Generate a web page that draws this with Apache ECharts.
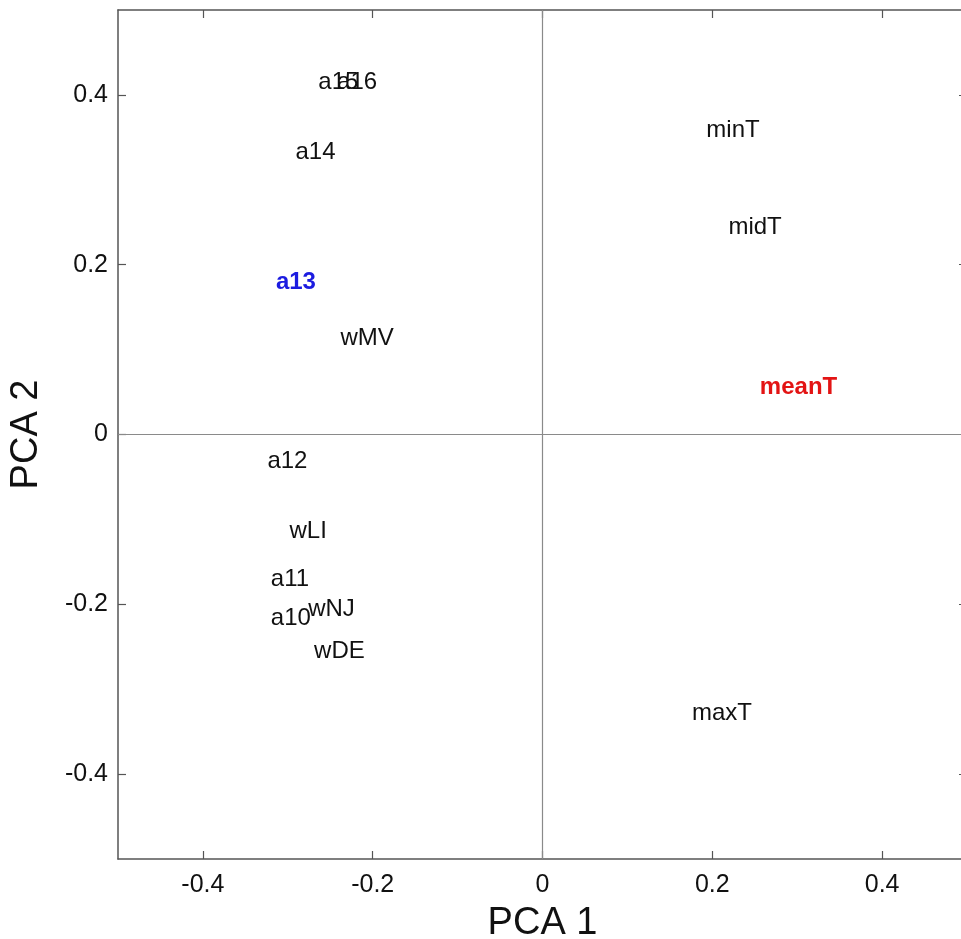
<!DOCTYPE html>
<html>
<head>
<meta charset="utf-8">
<script src="https://cdn.jsdelivr.net/npm/echarts@6/dist/echarts.min.js"></script>
<style>html,body{margin:0;padding:0;background:#fff}#c{width:961px;height:939px}</style>
</head>
<body>
<div id="c"></div>
<script>
// Variable labels and their PCA loadings
const names = ['a15','a16','a14','a13','wMV','minT','midT','meanT','a12','wLI','a11','a10','wNJ','wDE','maxT'];
const pca1  = [-0.264,-0.242,-0.291,-0.314,-0.238,0.193,0.219,0.256,-0.324,-0.298,-0.320,-0.320,-0.276,-0.269,0.176];
const pca2  = [0.415,0.415,0.332,0.179,0.113,0.358,0.244,0.055,-0.032,-0.114,-0.171,-0.217,-0.206,-0.256,-0.329];
const tickVals = [-0.4,-0.2,0,0.2,0.4];
const tickLabelVals = [-0.4,-0.2,0,0.2,0.4];

const highlight = {a13:{color:'#1c1ce0',fontWeight:'bold'}, meanT:{color:'#e31414',fontWeight:'bold'}};

const data = names.map((n,i)=>{
  const h = highlight[n];
  const d = {value:[pca1[i],pca2[i]], name:n};
  if (h) d.label = {color:h.color, fontWeight:h.fontWeight};
  return d;
});

const FONT = '"Liberation Sans", Arial, sans-serif';
const axisLineStyle = {color:'#555', width:1.5};
const fmt = v => (Math.abs(v) < 1e-9 ? '0' : String(Math.round(v*10)/10));

const chart = echarts.init(document.getElementById('c'), null, {renderer:'canvas'});
chart.setOption({
  animation:false,
  backgroundColor:'#fff',
  grid:{left:118, top:10, width:849, height:849, show:false, containLabel:false, outerBoundsMode:'none'},
  xAxis:[{
    type:'value', min:-0.5, max:0.5, position:'bottom',
    axisLine:{show:true, onZero:false, lineStyle:axisLineStyle},
    axisTick:{show:true, inside:true, length:8, customValues:tickVals, lineStyle:{color:'#555',width:1.2}},
    axisLabel:{show:true, customValues:tickLabelVals, formatter:fmt, margin:14, fontSize:25, color:'#111', fontFamily:FONT},
    splitLine:{show:false},
    name:'PCA 1', nameLocation:'middle', nameGap:46,
    nameTextStyle:{fontSize:38, color:'#111', fontFamily:FONT}
  },{
    type:'value', min:-0.5, max:0.5, position:'top',
    axisLine:{show:true, onZero:false, lineStyle:axisLineStyle},
    axisTick:{show:true, inside:true, length:8, customValues:tickVals, lineStyle:{color:'#555',width:1.2}},
    axisLabel:{show:false}, splitLine:{show:false}
  }],
  yAxis:[{
    type:'value', min:-0.5, max:0.5, position:'left',
    axisLine:{show:true, onZero:false, lineStyle:axisLineStyle},
    axisTick:{show:true, inside:true, length:8, customValues:tickVals, lineStyle:{color:'#555',width:1.2}},
    axisLabel:{show:true, customValues:tickLabelVals, formatter:fmt, margin:10, fontSize:25, color:'#111', fontFamily:FONT},
    splitLine:{show:false},
    name:'PCA 2', nameLocation:'middle', nameGap:72,
    nameTextStyle:{fontSize:38, color:'#111', fontFamily:FONT}
  },{
    type:'value', min:-0.5, max:0.5, position:'right',
    axisLine:{show:true, onZero:false, lineStyle:axisLineStyle},
    axisTick:{show:true, inside:true, length:8, customValues:tickVals, lineStyle:{color:'#555',width:1.2}},
    axisLabel:{show:false}, splitLine:{show:false}
  }],
  series:[{
    type:'scatter',
    symbolSize:0,
    itemStyle:{opacity:1},
    data:data,
    label:{
      show:true, position:'right', distance:0, opacity:1,
      formatter:p=>p.name,
      fontSize:24, color:'#111', fontFamily:FONT,
      align:'left', verticalAlign:'middle'
    },
    markLine:{
      silent:true, symbol:'none', label:{show:false},
      lineStyle:{color:'#8a8a8a', width:1.2, type:'solid', opacity:1},
      data:[{xAxis:0},{yAxis:0}]
    },
    z:5
  }]
});
</script>
</body>
</html>
